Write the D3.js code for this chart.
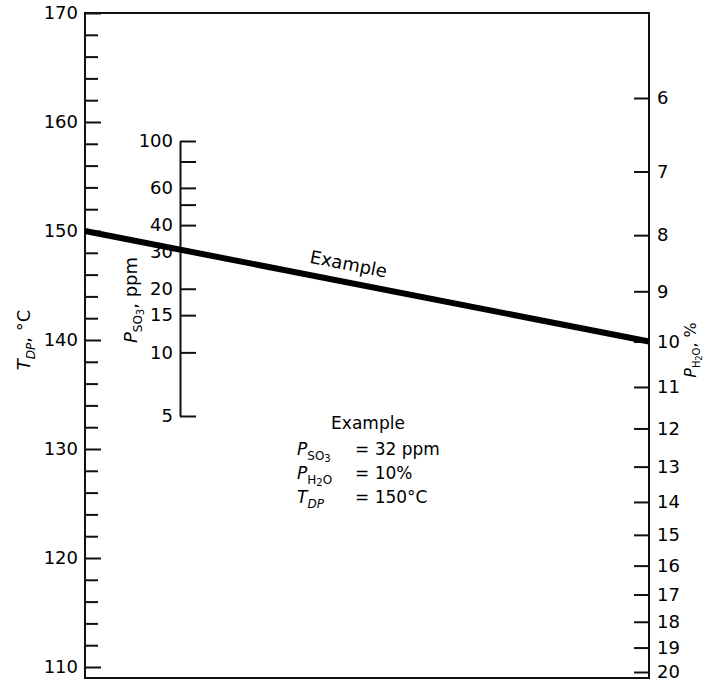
<!DOCTYPE html>
<html lang="en">
<head>
    <meta charset="UTF-8">
    <title>Acid dew point nomograph</title>
    <script src="https://d3js.org/d3.v7.min.js"></script>
    <style>
    body { margin: 0; background: #fff; }
    svg text { font-family: "DejaVu Sans", "Liberation Sans", sans-serif; fill: #000; }
    .axis path, .axis line { stroke: #111; stroke-width: 2; }
    .axis text { font-size: 18px; }
    </style>
</head>
<body>
    <div id="chart"></div>
    <script>
    // T_DP scale (deg C), labelled every 10, minor ticks every 2
    var tdpLabels = [110, 120, 130, 140, 150, 160, 170];
    var tdpMinor = [112, 114, 116, 118, 122, 124, 126, 128, 132, 134, 136, 138,
        142, 144, 146, 148, 152, 154, 156, 158, 162, 164, 166, 168];

    // P_SO3 scale (ppm)
    var so3Ticks = [5, 10, 15, 20, 30, 40, 50, 60, 80, 100];
    var so3Labels = [5, 10, 15, 20, 30, 40, 60, 100];

    // P_H2O scale (%)
    var h2oTicks = [6, 7, 8, 9, 10, 11, 12, 13, 14, 15, 16, 17, 18, 19, 20];

    // the worked example drawn on the chart
    var example = { so3: 32, h2o: 10, tdp: 150 };

    var width = 707, height = 682;
    var xL = 85, xM = 180, xR = 649, yTop = 13, yBot = 678;

    var yT = d3.scaleLinear().domain([110, 170]).range([667, 13]);
    var yS = d3.scaleLog().domain([5, 100]).range([416, 141]);
    var yH = d3.scaleLog().domain([6, 20]).range([98, 672]);

    var svg = d3.select("#chart")
        .append("svg")
        .attr("width", width)
        .attr("height", height);

    // frame
    svg.append("rect")
        .attr("x", xL).attr("y", yTop)
        .attr("width", xR - xL).attr("height", yBot - yTop)
        .attr("fill", "none")
        .attr("stroke", "#111")
        .attr("stroke-width", 2);

    // left axis: minor ticks then labelled ticks
    svg.append("g")
        .attr("class", "axis")
        .attr("transform", "translate(" + xL + ",0)")
        .call(d3.axisLeft(yT).tickValues(tdpMinor).tickSizeInner(-13).tickSizeOuter(0).tickFormat(""))
        .select(".domain").remove();

    svg.append("g")
        .attr("class", "axis")
        .attr("transform", "translate(" + xL + ",0)")
        .call(d3.axisLeft(yT).tickValues(tdpLabels).tickSizeInner(-16).tickSizeOuter(0).tickPadding(7))
        .select(".domain").remove();

    // middle axis (SO3)
    svg.append("g")
        .attr("class", "axis")
        .attr("transform", "translate(" + xM + ",0)")
        .call(d3.axisLeft(yS).tickValues(so3Ticks).tickSizeInner(-16).tickSizeOuter(0).tickPadding(7)
            .tickFormat(d => so3Labels.indexOf(d) >= 0 ? d : ""));

    // right axis (H2O)
    svg.append("g")
        .attr("class", "axis")
        .attr("transform", "translate(" + xR + ",0)")
        .call(d3.axisRight(yH).tickValues(h2oTicks).tickSizeInner(-15).tickSizeOuter(0).tickPadding(8).tickFormat(d3.format("d")))
        .select(".domain").remove();

    // example line
    var y1 = yT(example.tdp), y2 = yH(example.h2o);
    svg.append("line")
        .attr("x1", xL).attr("y1", y1)
        .attr("x2", xR).attr("y2", y2)
        .attr("stroke", "#000")
        .attr("stroke-width", 6);

    var ang = Math.atan2(y2 - y1, xR - xL) * 180 / Math.PI;
    var t = 0.461;
    svg.append("text")
        .attr("transform", "translate(" + (xL + t * (xR - xL)) + "," + (y1 + t * (y2 - y1)) + ") rotate(" + ang + ")")
        .attr("y", -12)
        .attr("text-anchor", "middle")
        .style("font-size", "18px")
        .text("Example");

    // axis titles
    var tl = svg.append("text")
        .attr("transform", "translate(30,340) rotate(-90)")
        .attr("text-anchor", "middle")
        .style("font-size", "18px");
    tl.append("tspan").style("font-style", "italic").text("T");
    tl.append("tspan").attr("dy", 5).style("font-size", "12px").style("font-style", "italic").text("DP");
    tl.append("tspan").attr("dy", -5).text(", \u00b0C");

    var tm = svg.append("text")
        .attr("transform", "translate(137,300) rotate(-90)")
        .attr("text-anchor", "middle")
        .style("font-size", "18px");
    tm.append("tspan").style("font-style", "italic").text("P");
    tm.append("tspan").attr("dy", 5).style("font-size", "12px").text("SO");
    tm.append("tspan").attr("dy", 2).style("font-size", "10px").text("3");
    tm.append("tspan").attr("dy", -7).text(", ppm");

    var tr = svg.append("text")
        .attr("transform", "translate(696,350) rotate(-90)")
        .attr("text-anchor", "middle")
        .style("font-size", "16px");
    tr.append("tspan").style("font-style", "italic").text("P");
    tr.append("tspan").attr("dy", 4).style("font-size", "10px").text("H");
    tr.append("tspan").attr("dy", 2).style("font-size", "8px").text("2");
    tr.append("tspan").attr("dy", -2).style("font-size", "10px").text("O");
    tr.append("tspan").attr("dy", -4).text(", %");

    // example box
    var box = svg.append("g").style("font-size", "17px");
    box.append("text").attr("x", 368).attr("y", 429).attr("text-anchor", "middle").text("Example");

    var l1 = box.append("text").attr("x", 297).attr("y", 455);
    l1.append("tspan").style("font-style", "italic").text("P");
    l1.append("tspan").attr("dy", 5).style("font-size", "12px").text("SO");
    l1.append("tspan").attr("dy", 2).style("font-size", "10px").text("3");
    box.append("text").attr("x", 355).attr("y", 455).text("= " + example.so3 + " ppm");

    var l2 = box.append("text").attr("x", 297).attr("y", 479);
    l2.append("tspan").style("font-style", "italic").text("P");
    l2.append("tspan").attr("dy", 5).style("font-size", "12px").text("H");
    l2.append("tspan").attr("dy", 2).style("font-size", "10px").text("2");
    l2.append("tspan").attr("dy", -2).style("font-size", "12px").text("O");
    box.append("text").attr("x", 355).attr("y", 479).text("= " + example.h2o + "%");

    var l3 = box.append("text").attr("x", 297).attr("y", 503);
    l3.append("tspan").style("font-style", "italic").text("T");
    l3.append("tspan").attr("dy", 5).style("font-size", "12px").style("font-style", "italic").text("DP");
    box.append("text").attr("x", 355).attr("y", 503).text("= " + example.tdp + "\u00b0C");
    </script>
</body>
</html>
